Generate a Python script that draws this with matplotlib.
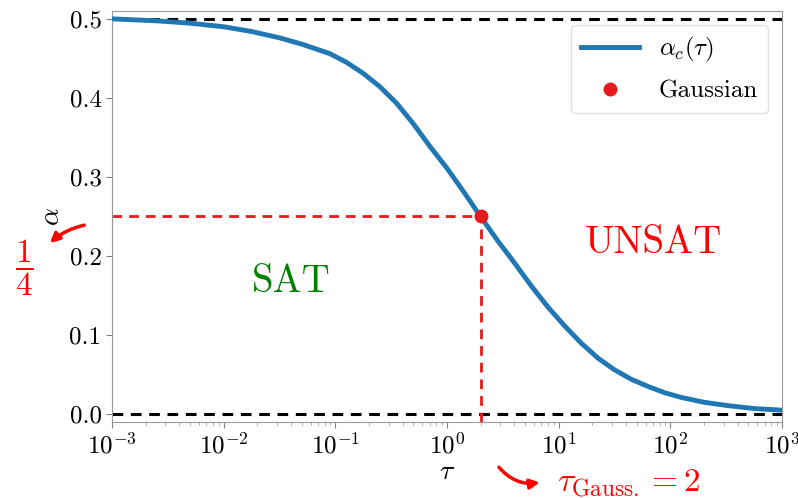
import numpy as np
import matplotlib.pyplot as plt
from matplotlib.patches import FancyArrowPatch

# values
log_tau = [-3.0, -2.6, -2.3, -2.0, -1.75, -1.5, -1.3, -1.05, -0.9, -0.75,
           -0.6, -0.45, -0.3, -0.15, 0.0, 0.15, 0.3, 0.45, 0.6, 0.75,
           0.9, 1.05, 1.2, 1.35, 1.5, 1.65, 1.8, 1.95, 2.1, 2.3,
           2.5, 2.75, 3.0]
alpha_c = [0.500, 0.4975, 0.4945, 0.490, 0.484, 0.476, 0.468, 0.456, 0.445, 0.431,
           0.414, 0.393, 0.367, 0.338, 0.311, 0.281, 0.250, 0.220, 0.192, 0.163,
           0.136, 0.112, 0.090, 0.071, 0.056, 0.044, 0.035, 0.027, 0.021, 0.015,
           0.011, 0.007, 0.005]
tau_gauss = 2.0
alpha_gauss = 0.25
bounds = [0.0, 0.5]
y_ticks = [0.0, 0.1, 0.2, 0.3, 0.4, 0.5]

plt.rcParams['font.family'] = 'serif'
plt.rcParams['font.serif'] = ['cmr10', 'DejaVu Serif']
plt.rcParams['mathtext.fontset'] = 'cm'
plt.rcParams['axes.formatter.use_mathtext'] = True
plt.rcParams['axes.unicode_minus'] = False

tau = 10.0 ** np.array(log_tau)

fig = plt.figure(figsize=(7.98, 4.98), dpi=100)
ax = fig.add_axes([0.1404, 0.1526, 0.8396, 0.8254])

for b in bounds:
    ax.axhline(b, color='black', lw=2.2, ls=(0, (3.5, 2.5)), zorder=2)

# guide lines to the Gaussian point
ax.plot([1e-3, tau_gauss], [alpha_gauss, alpha_gauss], color='#e41a1c', lw=2, ls=(0, (3.5, 2.5)), zorder=2)
ax.plot([tau_gauss, tau_gauss], [-0.01, alpha_gauss], color='#e41a1c', lw=2, ls=(0, (3.5, 2.5)), zorder=2)

ax.plot(tau, alpha_c, color='#1f77b4', lw=3.5, label=r'$\alpha_c(\tau)$', zorder=3)
ax.plot([tau_gauss], [alpha_gauss], 'o', color='#e41a1c', ms=9, ls='none', label='Gaussian', zorder=4)

ax.set_xscale('log')
ax.set_xlim(1e-3, 1e3)
ax.set_ylim(-0.01, 0.51)
ax.set_yticks(y_ticks)
ax.set_yticklabels([f'{v:.1f}' for v in y_ticks])
ax.tick_params(axis='both', which='major', labelsize=18, color='0.5', length=4)
ax.tick_params(axis='x', which='minor', color='0.6', length=2.5)
for s in ax.spines.values():
    s.set_color('0.6')

ax.set_xlabel(r'$\tau$', fontsize=20, labelpad=0)
ax.set_ylabel(r'$\alpha$', fontsize=20, labelpad=3)

ax.text(0.04, 0.167, 'SAT', color='green', fontsize=28, ha='center', va='center')
ax.text(70, 0.216, 'UNSAT', color='red', fontsize=28, ha='center', va='center')

leg = ax.legend(loc='upper right', fontsize=18, frameon=True, borderpad=0.4,
                labelspacing=0.65, handlelength=2.3, borderaxespad=0,
                bbox_to_anchor=(0.979, 0.966))
leg.get_frame().set_edgecolor('0.85')

# annotations outside the axes
fig.text(0.031, 0.462, r'$\dfrac{1}{4}$', color='red', fontsize=24, ha='center', va='center')
fig.add_artist(FancyArrowPatch(
    (0.109, 0.549), (0.06, 0.508), transform=fig.transFigure,
    arrowstyle='-|>', mutation_scale=14, color='red', lw=2.5,
    connectionstyle='arc3,rad=0.15'))
fig.text(0.698, 0.014, r'$\tau_{\rm Gauss.} = 2$', color='red', fontsize=24, ha='left', va='baseline')
fig.add_artist(FancyArrowPatch(
    (0.623, 0.066), (0.68, 0.032), transform=fig.transFigure,
    arrowstyle='-|>', mutation_scale=14, color='red', lw=2.5,
    connectionstyle='arc3,rad=0.3'))

fig.savefig('out.png', dpi=100)
